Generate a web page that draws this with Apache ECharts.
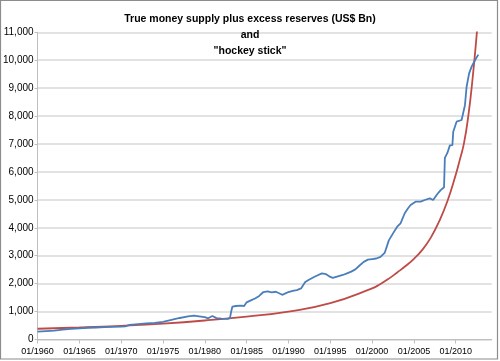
<!DOCTYPE html>
<html>
<head>
<meta charset="utf-8">
<script src="https://cdn.jsdelivr.net/npm/echarts@6/dist/echarts.min.js"></script>
<style>
html,body{margin:0;padding:0;background:#fff;}
#chart{width:500px;height:361px;}
</style>
</head>
<body>
<div id="chart"></div>
<script>
// Title lines
var titleLines = ['True money supply plus excess reserves (US$ Bn)', 'and', '"hockey stick"'];

// X axis ticks (years) and labels
var xTickYears = [1960, 1965, 1970, 1975, 1980, 1985, 1990, 1995, 2000, 2005, 2010];
var yTicks = [0, 1000, 2000, 3000, 4000, 5000, 6000, 7000, 8000, 9000, 10000, 11000];

// Blue series: true money supply plus excess reserves (decimal year, US$ Bn)
var moneyYears = [
  1960.0, 1961.0, 1962.0, 1963.0, 1964.0, 1965.0, 1966.0, 1967.0, 1968.0, 1969.0,
  1970.0, 1970.5, 1971.0, 1972.0, 1973.0, 1974.0, 1975.0, 1976.0, 1977.0, 1978.0,
  1978.7, 1979.3, 1980.0, 1980.4, 1980.9, 1981.4, 1982.0, 1982.7, 1983.0, 1983.15,
  1983.3, 1983.7, 1984.3, 1984.7, 1985.0, 1985.5, 1986.0, 1986.5, 1987.0, 1987.5,
  1988.0, 1988.5, 1989.0, 1989.3, 1989.7, 1990.0, 1990.5, 1991.0, 1991.5, 1992.0,
  1992.5, 1993.0, 1993.5, 1994.0, 1994.5, 1995.0, 1995.3, 1996.0, 1996.5, 1997.0,
  1997.5, 1998.0, 1998.5, 1999.0, 1999.5, 2000.0, 2000.5, 2001.0, 2001.5, 2002.0,
  2002.5, 2003.0, 2003.4, 2003.9, 2004.3, 2004.6, 2005.2, 2005.8, 2006.3, 2006.9,
  2007.3, 2007.8, 2008.2, 2008.6, 2008.7, 2009.0, 2009.3, 2009.6, 2009.7, 2010.1,
  2010.7, 2011.1, 2011.3, 2011.6, 2011.9, 2012.3, 2012.7
];
var moneyValues = [
  280, 300, 320, 350, 380, 400, 420, 430, 440, 450,
  460, 470, 520, 550, 575, 595, 630, 700, 770, 830,
  852, 830, 800, 760, 840, 765, 745, 735, 765, 1000,
  1180, 1200, 1215, 1200, 1330, 1400, 1470, 1560, 1700, 1720,
  1690, 1710, 1640, 1600, 1660, 1700, 1740, 1770, 1830, 2060,
  2150, 2230, 2300, 2370, 2340, 2240, 2210, 2270, 2310, 2370,
  2430, 2510, 2650, 2780, 2860, 2880, 2900, 2960, 3100, 3550,
  3800, 4040, 4160, 4520, 4700, 4815, 4935, 4935, 4995, 5055,
  4995, 5210, 5350, 5450, 6500, 6680, 6950, 6960, 7440, 7800,
  7860, 8390, 9050, 9530, 9770, 10000, 10200
];

// Red series: "hockey stick" curve (decimal year, US$ Bn); last point lies above the axis top and is clipped
var stickYears = [
  1960, 1965, 1970, 1975, 1980, 1985, 1990, 1995, 2000, 2001,
  2002, 2003, 2004, 2005, 2006, 2007, 2008, 2009, 2010, 2010.5,
  2011, 2011.5, 2012, 2012.5, 2012.8
];
var stickValues = [
  385, 430, 490, 570, 680, 820, 1000, 1300, 1830, 1990,
  2180, 2400, 2630, 2890, 3210, 3640, 4220, 4950, 5900, 6450,
  7050, 8000, 9300, 10900, 12000
];

function pairs(xs, ys) {
  var out = [];
  for (var i = 0; i < xs.length; i++) out.push([xs[i], ys[i]]);
  return out;
}

var chart = echarts.init(document.getElementById('chart'), null, {renderer: 'canvas'});
var titleFont = '"Liberation Sans", Arial, sans-serif';
var axisFont = '"Liberation Sans", Arial, sans-serif';

chart.setOption({
  animation: false,
  backgroundColor: '#ffffff',
  title: titleLines.map(function (t, i) {
    return {
      text: t,
      left: 'center',
      top: 9 + i * 16,
      textStyle: {fontFamily: titleFont, fontWeight: 'bold', fontSize: 10.5, color: '#000'}
    };
  }),
  graphic: [{
    type: 'rect',
    shape: {x: 0.5, y: 0.5, width: 497, height: 358.5},
    style: {fill: 'none', stroke: '#8c8c8c', lineWidth: 1.2},
    silent: true,
    z: 100
  }],
  grid: {left: 37, right: 8.3, top: 32.3, bottom: 21.5, containLabel: false},
  xAxis: {
    type: 'value',
    min: 1960,
    max: 2014.3,
    interval: 5,
    splitLine: {show: false},
    axisLine: {show: true, lineStyle: {color: '#bfbfbf', width: 1}},
    axisTick: {show: true, length: 4, lineStyle: {color: '#bfbfbf'}},
    axisLabel: {
      showMaxLabel: false,
      margin: 8,
      fontFamily: axisFont,
      fontSize: 9,
      color: '#000',
      formatter: function (v) { return xTickYears.indexOf(v) >= 0 ? '01/' + v : ''; }
    }
  },
  yAxis: {
    type: 'value',
    min: 0,
    max: 11000,
    interval: 1000,
    axisLine: {show: true, lineStyle: {color: '#bfbfbf', width: 1}},
    axisTick: {show: true, length: 3, lineStyle: {color: '#bfbfbf'}},
    splitLine: {show: true, lineStyle: {color: '#d9d9d9', width: 1.5}},
    axisLabel: {
      margin: 4,
      fontFamily: axisFont,
      fontSize: 10,
      color: '#000',
      formatter: function (v) { return yTicks.indexOf(v) >= 0 ? v.toLocaleString('en-US') : ''; }
    }
  },
  series: [
    {
      name: 'True money supply plus excess reserves',
      type: 'line',
      data: pairs(moneyYears, moneyValues),
      showSymbol: false,
      smooth: false,
      clip: true,
      lineStyle: {color: '#4a7ebb', width: 1.8},
      z: 3
    },
    {
      name: 'hockey stick',
      type: 'line',
      data: pairs(stickYears, stickValues),
      showSymbol: false,
      smooth: true,
      clip: true,
      lineStyle: {color: '#be4b48', width: 1.8},
      z: 2
    }
  ]
});
</script>
</body>
</html>
